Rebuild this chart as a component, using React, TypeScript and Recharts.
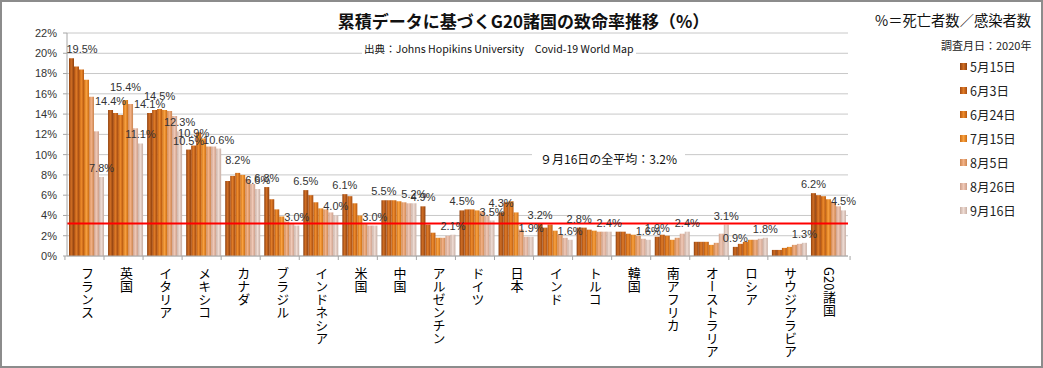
import { Bar, BarChart, CartesianGrid, LabelList, Legend, ReferenceLine, XAxis, YAxis } from "recharts";

const COUNTRIES = [
  "フランス", "英国", "イタリア", "メキシコ", "カナダ", "ブラジル", "インドネシア", "米国", "中国", "アルゼンチン",
  "ドイツ", "日本", "インド", "トルコ", "韓国", "南アフリカ", "オーストラリア", "ロシア", "サウジアラビア", "G20諸国",
];

const DATES = ["5月15日", "6月3日", "6月24日", "7月15日", "8月5日", "8月26日", "9月16日"];

const MAY15 = [19.5, 14.4, 14.1, 10.5, 7.4, 6.8, 6.5, 6.1, 5.5, 4.9, 4.5, 4.3, 3.2, 2.8, 2.4, 1.9, 1.4, 0.9, 0.6, 6.2];
const JUN03 = [18.7, 14.1, 14.4, 10.9, 7.9, 5.6, 6.0, 5.9, 5.5, 3.1, 4.6, 5.3, 2.8, 2.8, 2.4, 2.1, 1.4, 1.2, 0.6, 6.0];
const JUN24 = [18.4, 13.9, 14.5, 12.2, 8.2, 4.6, 5.3, 5.2, 5.5, 2.3, 4.6, 5.4, 3.1, 2.6, 2.2, 2.0, 1.4, 1.4, 0.8, 5.9];
const JUL15 = [17.4, 15.4, 14.4, 11.6, 8.0, 3.9, 4.7, 4.0, 5.4, 1.8, 4.5, 4.3, 2.5, 2.5, 2.1, 1.6, 1.1, 1.6, 0.9, 5.6];
const AUG05 = [15.7, 15.0, 14.3, 10.8, 7.6, 3.4, 4.6, 3.2, 5.3, 1.8, 4.4, 2.6, 2.1, 2.4, 2.0, 1.8, 1.3, 1.6, 1.1, 5.3];
const AUG26 = [12.3, 12.6, 13.8, 10.8, 7.1, 3.2, 4.3, 3.0, 5.2, 2.0, 4.0, 1.9, 1.8, 2.4, 1.7, 2.2, 2.2, 1.7, 1.2, 4.9];
const SEP16 = [7.8, 11.1, 12.3, 10.6, 6.6, 3.0, 4.0, 3.0, 5.2, 2.1, 3.5, 1.9, 1.6, 2.4, 1.6, 2.4, 3.1, 1.8, 1.3, 4.5];

const SERIES = [MAY15, JUN03, JUN24, JUL15, AUG05, AUG26, SEP16];

// データラベルを付ける国（系列ごと）
const LABELED = [
  ["フランス", "英国", "イタリア", "メキシコ", "ブラジル", "インドネシア", "米国", "中国", "アルゼンチン", "ドイツ", "日本", "インド", "トルコ", "南アフリカ", "ロシア", "G20諸国"],
  ["メキシコ"],
  ["イタリア", "カナダ"],
  ["英国"],
  [],
  [],
  COUNTRIES,
];

const Y_TICKS = [0, 2, 4, 6, 8, 10, 12, 14, 16, 18, 20, 22];
const AVERAGE = 3.2;

// 左端（暗）・中央（明）のグラデーション色
const SHADES = [
  ["#8e400f", "#d06e24"],
  ["#a44a10", "#e07c28"],
  ["#b6570f", "#ee8b2c"],
  ["#cc6c12", "#f9a241"],
  ["#cc8550", "#f3b287"],
  ["#cc9e89", "#f0c9b7"],
  ["#c8afa4", "#efdcd4"],
];

const data = COUNTRIES.map((c, i) => {
  const row: Record<string, string | number> = { country: c };
  SERIES.forEach((s, k) => (row[`s${k}`] = s[i]));
  return row;
});

const JP = "'Noto Sans CJK JP', sans-serif";
const NUM = "'Liberation Sans', Arial, sans-serif";

const W = 1043;
const H = 368;
const PLOT_LEFT = 67;
const PLOT_RIGHT = 930;
const PLOT_TOP = 33;
const PLOT_BOTTOM = 256;
const BAND = (PLOT_RIGHT - PLOT_LEFT) / COUNTRIES.length;

function CountryTick({ x, y, payload, index }: any) {
  const left = x - BAND / 2;
  return (
    <g>
      <line x1={left} x2={left} y1={y - 8} y2={y - 4} stroke="#a6a6a6" />
      {index === COUNTRIES.length - 1 && (
        <line x1={left + BAND} x2={left + BAND} y1={y - 8} y2={y - 4} stroke="#a6a6a6" />
      )}
      <text
        x={x + 1}
        y={y + 3}
        fontSize={13}
        fontFamily={JP}
        fill="#000"
        style={{ writingMode: "vertical-rl" }}
      >
        {payload.value}
      </text>
    </g>
  );
}

function makeLabel(k: number) {
  return (props: any) => {
    const { x, y, width, value, index } = props;
    if (!LABELED[k].includes(COUNTRIES[index])) return null;
    // 中間系列のラベルは少し上に置く
    const lift = k > 0 && k < 6 ? 4 : 0;
    const cx = Math.max(x + width / 2, PLOT_LEFT + 15);
    return (
      <text x={cx} y={y - 5 - lift} textAnchor="middle" fontSize={11} fontFamily={NUM} fill="#333">
        {`${Number(value).toFixed(1)}%`}
      </text>
    );
  };
}

function DateLegend() {
  return (
    <div style={{ fontFamily: JP, color: "#222" }}>
      <div style={{ fontSize: 11, marginLeft: -19, marginBottom: 1, whiteSpace: "nowrap" }}>調査月日：2020年</div>
      {DATES.map((d, k) => (
        <div key={d} style={{ display: "flex", alignItems: "center", height: 24, fontSize: 12.5 }}>
          <span
            style={{
              display: "inline-block",
              width: 7,
              height: 7,
              marginRight: 3,
              background: `linear-gradient(90deg, ${SHADES[k][0]}, ${SHADES[k][1]}, ${SHADES[k][0]})`,
            }}
          />
          {d}
        </div>
      ))}
    </div>
  );
}

export default function App() {
  return (
    <div
      style={{
        position: "relative",
        width: W,
        height: H,
        boxSizing: "border-box",
        border: "2px solid #8c8c8c",
        background: "#fff",
        overflow: "hidden",
      }}
    >
      <style>{`body{margin:0}`}</style>
      <div style={{ position: "absolute", left: -2, top: -2 }}>
        <BarChart
          width={W}
          height={H}
          data={data}
          margin={{ top: PLOT_TOP, right: W - PLOT_RIGHT, bottom: 0, left: PLOT_LEFT - 60 }}
          barCategoryGap={2}
          barGap={0}
        >
          <defs>
            {SHADES.map(([dark, light], k) => (
              <linearGradient key={k} id={`g${k}`} x1="0" y1="0" x2="1" y2="0">
                <stop offset="0%" stopColor={dark} />
                <stop offset="45%" stopColor={light} />
                <stop offset="100%" stopColor={dark} />
              </linearGradient>
            ))}
          </defs>
          <CartesianGrid vertical={false} stroke="#c8c8c8" />
          <XAxis
            dataKey="country"
            interval={0}
            height={H - PLOT_BOTTOM}
            tick={<CountryTick />}
            tickLine={false}
            axisLine={{ stroke: "#a6a6a6" }}
          />
          <YAxis
            width={60}
            domain={[0, 22]}
            ticks={Y_TICKS}
            interval={0}
            tickFormatter={(v: number) => `${v}%`}
            tick={{ fontSize: 11, fontFamily: NUM, fill: "#333" }}
            tickSize={4}
            tickMargin={6}
            axisLine={{ stroke: "#a6a6a6" }}
            tickLine={{ stroke: "#a6a6a6" }}
          />
          {SERIES.map((_, k) => (
            <Bar key={k} dataKey={`s${k}`} name={DATES[k]} fill={`url(#g${k})`} isAnimationActive={false}>
              <LabelList dataKey={`s${k}`} content={makeLabel(k)} />
            </Bar>
          ))}
          <ReferenceLine y={AVERAGE} stroke="#ff0000" strokeWidth={2} ifOverflow="extendDomain" />
          <Legend
            layout="vertical"
            align="right"
            verticalAlign="top"
            content={<DateLegend />}
            wrapperStyle={{ position: "absolute", left: 960, top: 37, width: 82 }}
          />
        </BarChart>
      </div>

      <div
        style={{
          position: "absolute",
          left: 0,
          width: W,
          top: 6,
          textAlign: "center",
          fontFamily: JP,
          fontWeight: 700,
          fontSize: 17,
          color: "#111",
        }}
      >
        累積データに基づくG20諸国の致命率推移（%）
      </div>
      <div style={{ position: "absolute", left: 873, top: 7, fontFamily: JP, fontSize: 14.3, color: "#111" }}>
        %＝死亡者数／感染者数
      </div>
      <div
        style={{
          position: "absolute",
          left: 360,
          top: 39,
          fontFamily: JP,
          fontSize: 10.6,
          color: "#111",
          background: "#fff",
          padding: "0 2px",
          whiteSpace: "pre",
        }}
      >
        {"出典：Johns Hopikins University　Covid-19 World Map"}
      </div>
      <div
        style={{
          position: "absolute",
          left: 530,
          top: 148,
          fontFamily: JP,
          fontSize: 12,
          color: "#111",
          background: "#fff",
          padding: "0 8px",
        }}
      >
        ９月16日の全平均：3.2%
      </div>
    </div>
  );
}
